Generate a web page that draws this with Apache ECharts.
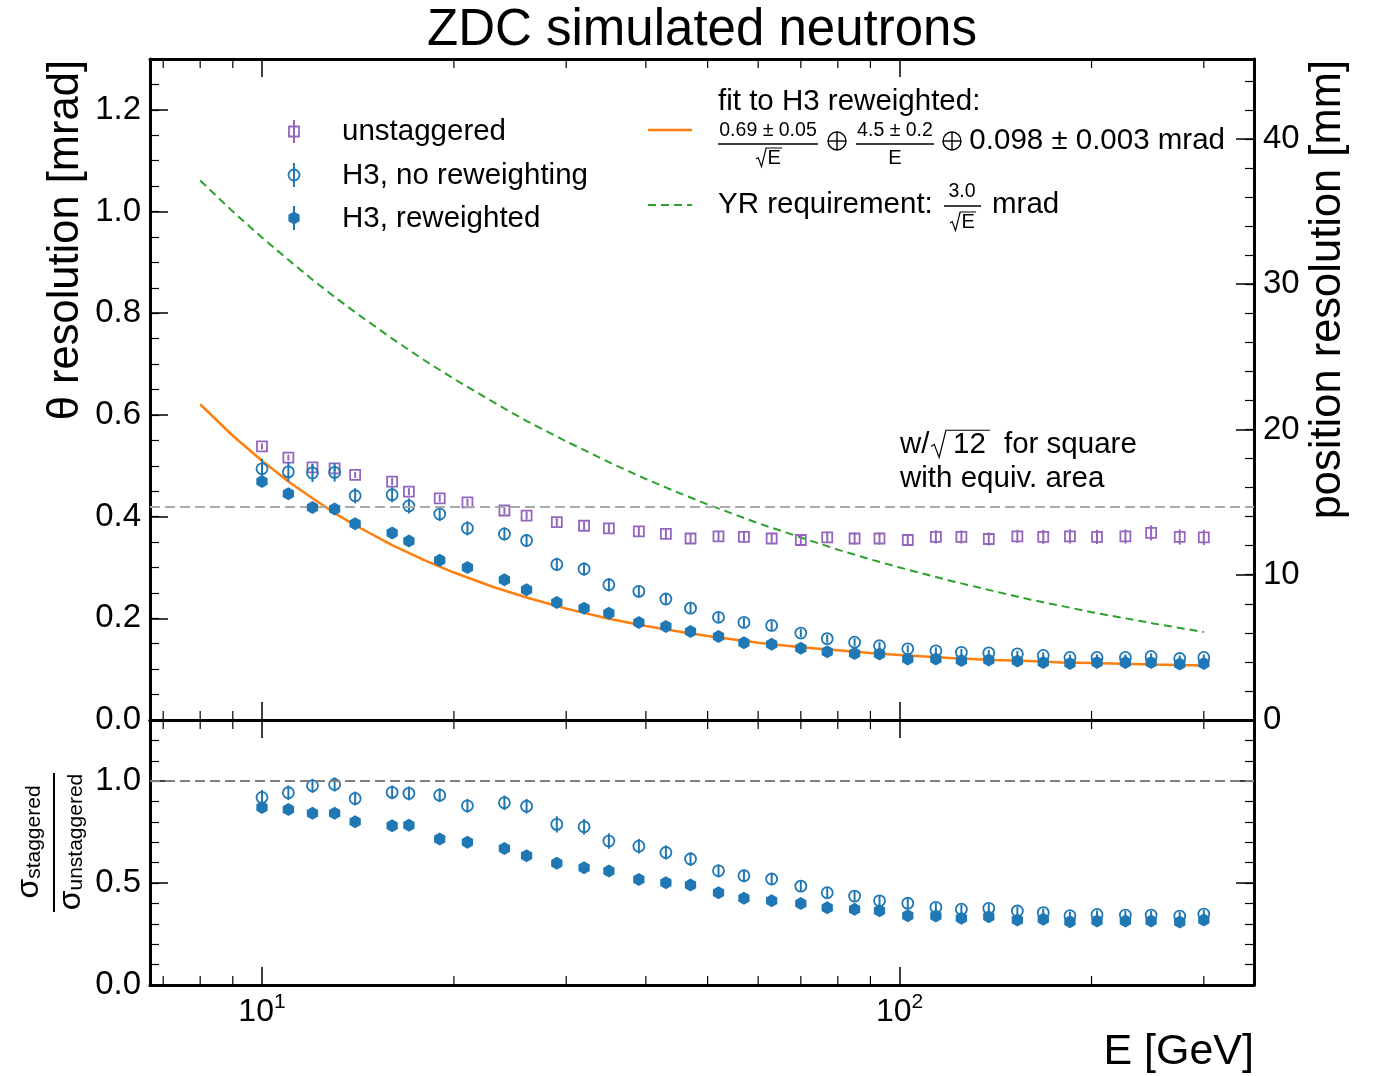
<!DOCTYPE html>
<html>
<head>
<meta charset="utf-8">
<script src="https://cdn.jsdelivr.net/npm/echarts@6/dist/echarts.min.js"></script>
<style>
html,body{margin:0;padding:0;background:#fff;}
#chart{width:1373px;height:1076px;}
</style>
</head>
<body>
<div id="chart"></div>
<script>
// ---------------- data ----------------
const energies = [10,11,12,13,14,16,17,19,21,24,26,29,32,35,39,43,47,52,57,63,70,77,85,93,103,114,125,138,153,168,185,204,226,248,275,300];

const unstaggered    = [0.538,0.516,0.497,0.495,0.482,0.469,0.449,0.436,0.428,0.412,0.402,0.389,0.382,0.377,0.371,0.366,0.357,0.361,0.360,0.357,0.354,0.359,0.357,0.357,0.354,0.360,0.360,0.356,0.361,0.360,0.361,0.360,0.361,0.368,0.360,0.359];
const unstaggeredErr = [0.006,0.006,0.006,0.006,0.006,0.007,0.007,0.007,0.007,0.008,0.008,0.008,0.008,0.009,0.009,0.009,0.010,0.010,0.010,0.011,0.011,0.011,0.012,0.012,0.012,0.013,0.013,0.013,0.013,0.014,0.014,0.014,0.014,0.015,0.015,0.015];

const h3NoRew    = [0.494,0.488,0.486,0.487,0.441,0.443,0.421,0.405,0.377,0.366,0.353,0.306,0.297,0.266,0.253,0.238,0.220,0.202,0.192,0.186,0.171,0.160,0.153,0.146,0.140,0.136,0.133,0.132,0.130,0.127,0.123,0.123,0.123,0.125,0.121,0.123];
const h3NoRewErr = [0.020,0.019,0.018,0.018,0.015,0.015,0.015,0.014,0.014,0.013,0.013,0.013,0.013,0.013,0.012,0.011,0.011,0.010,0.009,0.009,0.008,0.008,0.008,0.007,0.007,0.007,0.007,0.006,0.006,0.006,0.006,0.006,0.006,0.006,0.006,0.006];

const h3Rew    = [0.469,0.445,0.418,0.415,0.386,0.368,0.352,0.314,0.300,0.276,0.256,0.231,0.220,0.210,0.192,0.184,0.174,0.164,0.152,0.149,0.141,0.134,0.131,0.130,0.120,0.120,0.117,0.118,0.116,0.113,0.111,0.113,0.113,0.113,0.110,0.111];
const h3RewErr = [0.010,0.010,0.010,0.010,0.009,0.009,0.009,0.009,0.009,0.008,0.008,0.008,0.008,0.008,0.008,0.008,0.008,0.008,0.008,0.008,0.009,0.009,0.009,0.009,0.010,0.010,0.010,0.010,0.010,0.011,0.011,0.011,0.011,0.011,0.011,0.011];

const ratioNoRew    = [0.920,0.943,0.977,0.984,0.915,0.945,0.940,0.931,0.879,0.894,0.877,0.788,0.776,0.706,0.681,0.650,0.618,0.560,0.536,0.520,0.485,0.453,0.436,0.413,0.401,0.381,0.372,0.376,0.363,0.355,0.340,0.346,0.343,0.343,0.338,0.348];
const ratioNoRewErr = [0.037,0.036,0.035,0.035,0.034,0.034,0.034,0.034,0.034,0.036,0.036,0.040,0.038,0.038,0.036,0.035,0.034,0.032,0.030,0.029,0.027,0.026,0.025,0.024,0.023,0.022,0.022,0.021,0.021,0.020,0.020,0.020,0.020,0.020,0.020,0.020];

const ratioRew    = [0.871,0.861,0.842,0.842,0.801,0.781,0.784,0.716,0.700,0.670,0.634,0.597,0.575,0.559,0.518,0.502,0.490,0.453,0.425,0.413,0.400,0.379,0.371,0.364,0.340,0.338,0.327,0.335,0.319,0.322,0.310,0.314,0.314,0.314,0.309,0.319];
const ratioRewErr = [0.020,0.020,0.020,0.020,0.019,0.019,0.019,0.019,0.019,0.019,0.019,0.019,0.019,0.019,0.019,0.019,0.019,0.020,0.020,0.021,0.021,0.022,0.022,0.023,0.024,0.025,0.025,0.026,0.026,0.027,0.027,0.028,0.028,0.028,0.029,0.029];

// curves (fit to H3 reweighted, YR requirement)
const curveE   = [8,9,10,11,12,13,14,16,18,20,23,26,30,35,40,45,50,60,70,80,90,100,120,140,160,180,200,250,300];
const fitCurve = [0.621,0.559,0.510,0.469,0.436,0.407,0.383,0.344,0.314,0.290,0.262,0.241,0.219,0.199,0.185,0.174,0.165,0.152,0.143,0.137,0.132,0.128,0.122,0.118,0.116,0.113,0.112,0.109,0.107];
const yrCurve  = [1.061,1.000,0.949,0.905,0.866,0.832,0.802,0.750,0.707,0.671,0.626,0.588,0.548,0.507,0.474,0.447,0.424,0.387,0.359,0.335,0.316,0.300,0.274,0.254,0.237,0.224,0.212,0.190,0.173];

const squareLine = 0.417;   // w/sqrt(12) reference [mrad]
const ratioRef   = 1.0;
const minorTicksE = [7,8,9,20,30,40,50,60,70,80,90,200,300];

// axis ranges
const X_MIN = 6.674, X_MAX = 359.6;
const TOP_MAX = 1.3, MM_MAX = 45.5, BOT_MAX = 1.3;

// ---------------- styling ----------------
const FONT = '"Liberation Sans", "DejaVu Sans", Arial, sans-serif';
const C_PURPLE = '#9467bd', C_BLUE = '#1f77b4', C_ORANGE = '#ff7f0e', C_GREEN = '#2ca02c';
const HEX = 'path://M0,-10L8.66,-5L8.66,5L0,10L-8.66,5L-8.66,-5Z';
const HEX_SIZE = [11.3, 13];

function xAx(grid, pos, showLabel) {
  return {
    type: 'log', logBase: 10, gridIndex: grid, position: pos, min: X_MIN, max: X_MAX,
    axisLine: {show: true, onZero: false, lineStyle: {color: '#000', width: 3}},
    axisTick: {show: true, inside: true, length: 18, lineStyle: {color: '#000', width: 1.5}},
    minorTick: {show: false}, splitLine: {show: false}, minorSplitLine: {show: false},
    axisLabel: showLabel ? {
      show: true, margin: 7, showMinLabel: false, showMaxLabel: false,
      formatter: v => '{b|10}{s|' + Math.round(Math.log10(v)) + '}',
      rich: {
        b: {fontSize: 32, fontFamily: FONT, color: '#000', lineHeight: 40},
        s: {fontSize: 21, fontFamily: FONT, color: '#000', lineHeight: 2, verticalAlign: 'top'}
      }
    } : {show: false}
  };
}
function yAx(grid, pos, max, interval, len, label, line) {
  return {
    type: 'value', gridIndex: grid, position: pos, min: 0, max: max, interval: interval,
    axisLine: {show: line, onZero: false, lineStyle: {color: '#000', width: 3}},
    axisTick: {show: true, inside: true, length: len, lineStyle: {color: '#000', width: len > 10 ? 1.5 : 1.2}},
    splitLine: {show: false}, minorTick: {show: false},
    axisLabel: label ? {show: true, margin: 9, showMaxLabel: false, showMinLabel: true, color: '#000', fontSize: 33, fontFamily: FONT, formatter: label} : {show: false}
  };
}

function pts(xs, vals) { return xs.map((e, i) => [e, vals[i]]); }
function errSeries(xi, yi, vals, errs, color, z) {
  return {
    type: 'custom', xAxisIndex: xi, yAxisIndex: yi, z: z, silent: true, clip: false,
    data: energies.map((e, i) => [e, vals[i], errs[i]]),
    renderItem: (params, api) => {
      const x = api.value(0), y = api.value(1), e = api.value(2);
      const a = api.coord([x, y - e]), b = api.coord([x, y + e]);
      return {type: 'line', shape: {x1: a[0], y1: a[1], x2: b[0], y2: b[1]}, style: {stroke: color, lineWidth: 2}};
    }
  };
}
function scat(xi, yi, vals, symbol, size, hollow, color, z) {
  return {
    type: 'scatter', xAxisIndex: xi, yAxisIndex: yi, z: z, silent: true,
    data: pts(energies, vals), symbol: symbol, symbolSize: size,
    itemStyle: hollow ? {color: 'rgba(0,0,0,0)', borderColor: color, borderWidth: 1.8, opacity: 1}
                      : {color: color, borderWidth: 0, opacity: 1},
    emphasis: {disabled: true}
  };
}
function minorTickSeries(xi, yi, yMax) {
  return {
    type: 'custom', xAxisIndex: xi, yAxisIndex: yi, z: 20, silent: true, clip: false,
    data: minorTicksE.map(v => [v, 0]),
    renderItem: (params, api) => {
      const v = api.value(0);
      const b = api.coord([v, 0]), t = api.coord([v, yMax]);
      return {type: 'group', children: [
        {type: 'line', shape: {x1: b[0], y1: b[1], x2: b[0], y2: b[1] - 9}, style: {stroke: '#000', lineWidth: 1.2}},
        {type: 'line', shape: {x1: t[0], y1: t[1], x2: t[0], y2: t[1] + 9}, style: {stroke: '#000', lineWidth: 1.2}}
      ]};
    }
  };
}

// ---------------- graphic helpers (text, legend glyphs) ----------------
function txt(x, y, text, size, align, extra) {
  return Object.assign({type: 'text', x: x, y: y, silent: true,
    style: {text: text, fill: '#000', font: size + 'px ' + FONT, align: align || 'left', verticalAlign: 'middle'}}, extra || {});
}
function seg(x1, y1, x2, y2, color, w, dash) {
  return {type: 'line', silent: true, shape: {x1, y1, x2, y2}, style: {stroke: color, lineWidth: w, lineDash: dash || null}};
}
function radical(xLeft, cy, fs, width) {
  const h = 0.92 * fs, top = cy - 0.5 * fs;
  return {type: 'polyline', silent: true, shape: {points: [
    [xLeft, top + 0.6 * h], [xLeft + 0.12 * h, top + 0.52 * h], [xLeft + 0.3 * h, top + h],
    [xLeft + 0.55 * h, top], [xLeft + 0.55 * h + width, top]]},
    style: {stroke: '#000', lineWidth: 1.2, fill: null}};
}
function oplus(cx, cy, r) {
  return [{type: 'circle', silent: true, shape: {cx, cy, r}, style: {stroke: '#000', lineWidth: 1.4, fill: null}},
          seg(cx - r, cy, cx + r, cy, '#000', 1.4), seg(cx, cy - r, cx, cy + r, '#000', 1.4)];
}

const graphics = [].concat(
  [
    txt(702, 31, 'ZDC simulated neutrons', 51, 'center'),
    txt(66, 60, 'θ resolution [mrad]', 43.5, 'right', {rotation: Math.PI / 2}),
    txt(1328, 60, 'position resolution [mm]', 43.5, 'right', {rotation: Math.PI / 2}),
    txt(1254, 1052, 'E [GeV]', 43, 'right'),
    // ratio label
    {type: 'text', x: 29, y: 842, rotation: Math.PI / 2, silent: true, style: {
      text: '{a|σ}{b|staggered}', align: 'center', verticalAlign: 'middle', fill: '#000',
      rich: {a: {fontSize: 32, fontFamily: FONT, lineHeight: 32}, b: {fontSize: 21, fontFamily: FONT, lineHeight: 20, verticalAlign: 'bottom'}}}},
    seg(54, 773, 54, 912, '#000', 2),
    {type: 'text', x: 71, y: 842, rotation: Math.PI / 2, silent: true, style: {
      text: '{a|σ}{b|unstaggered}', align: 'center', verticalAlign: 'middle', fill: '#000',
      rich: {a: {fontSize: 32, fontFamily: FONT, lineHeight: 32}, b: {fontSize: 21, fontFamily: FONT, lineHeight: 20, verticalAlign: 'bottom'}}}},

    // left legend
    seg(294, 120, 294, 143, C_PURPLE, 2),
    {type: 'rect', silent: true, shape: {x: 289, y: 126.5, width: 10, height: 10}, style: {stroke: C_PURPLE, lineWidth: 1.8, fill: null}},
    txt(342, 132, 'unstaggered', 29.5),
    seg(294, 163, 294, 187, C_BLUE, 2),
    {type: 'circle', silent: true, shape: {cx: 294, cy: 175, r: 5.5}, style: {stroke: C_BLUE, lineWidth: 1.8, fill: null}},
    txt(342, 176, 'H3, no reweighting', 29.5),
    seg(294, 206, 294, 230, C_BLUE, 2),
    {type: 'polygon', silent: true, shape: {points: [[294, 211.5], [299.6, 214.8], [299.6, 221.2], [294, 224.5], [288.4, 221.2], [288.4, 214.8]]}, style: {fill: C_BLUE}},
    txt(342, 219, 'H3, reweighted', 29.5),

    // right legend : fit
    seg(648, 130, 692, 130, C_ORANGE, 2.5),
    txt(718, 102, 'fit to H3 reweighted:', 29.5),
    txt(768, 131, '0.69 ± 0.05', 19.5, 'center'),
    seg(718, 144, 818, 144, '#000', 1.3),
    radical(756, 158, 20, 16),
    txt(767.5, 158, 'E', 20),
    txt(895, 131, '4.5 ± 0.2', 19.5, 'center'),
    seg(856, 144, 934, 144, '#000', 1.3),
    txt(895, 158, 'E', 20, 'center'),
    txt(1225, 141, '0.098 ± 0.003 mrad', 29.5, 'right'),
    // right legend : YR
    seg(648, 205, 692, 205, C_GREEN, 2, [8, 5]),
    txt(718, 205, 'YR requirement:', 29.5),
    txt(962, 192, '3.0', 19.5, 'center'),
    seg(944, 206, 981, 206, '#000', 1.3),
    radical(950, 222, 20, 16),
    txt(961.5, 222, 'E', 20),
    txt(992, 205, 'mrad', 29.5),

    // annotation
    txt(900, 445, 'w/', 29.5),
    radical(931, 445, 29.5, 44),
    txt(953, 445, '12', 29.5),
    txt(1004, 445, 'for square', 29.5),
    txt(900, 479, 'with equiv. area', 29.5)
  ],
  oplus(837, 141, 9),
  oplus(952, 141, 9)
);

// ---------------- chart ----------------
const chart = echarts.init(document.getElementById('chart'), null, {renderer: 'canvas'});
chart.setOption({
  animation: false,
  backgroundColor: '#fff',
  grid: [
    {left: 150, right: 119, top: 59, height: 661, outerBoundsMode: 'none', containLabel: false},
    {left: 150, right: 119, top: 720, height: 265, outerBoundsMode: 'none', containLabel: false}
  ],
  xAxis: [xAx(0, 'bottom', false), xAx(0, 'top', false), xAx(1, 'bottom', true), xAx(1, 'top', false)],
  yAxis: [
    yAx(0, 'left', TOP_MAX, 0.2, 18, v => v.toFixed(1), true),
    yAx(0, 'right', MM_MAX, 10, 18, v => String(Math.round(v)), true),
    yAx(0, 'left', TOP_MAX, 0.05, 9, null, false),
    yAx(0, 'right', MM_MAX, 2, 9, null, false),
    yAx(1, 'left', BOT_MAX, 0.5, 18, v => v.toFixed(1), true),
    yAx(1, 'right', BOT_MAX, 0.5, 18, null, true),
    yAx(1, 'left', BOT_MAX, 0.1, 9, null, false),
    yAx(1, 'right', BOT_MAX, 0.1, 9, null, false)
  ],
  series: [
    {type: 'line', xAxisIndex: 0, yAxisIndex: 0, data: [], silent: true, z: 1,
     markLine: {silent: true, symbol: ['none', 'none'], label: {show: false}, animation: false,
       lineStyle: {color: '#aaaaaa', width: 2, type: [10, 5]}, data: [{yAxis: squareLine}]}},
    {type: 'line', xAxisIndex: 2, yAxisIndex: 4, data: [], silent: true, z: 1,
     markLine: {silent: true, symbol: ['none', 'none'], label: {show: false}, animation: false,
       lineStyle: {color: '#808080', width: 2, type: [10, 5]}, data: [{yAxis: ratioRef}]}},
    {type: 'line', xAxisIndex: 0, yAxisIndex: 0, data: pts(curveE, yrCurve), symbol: 'none', showSymbol: false,
     smooth: false, silent: true, z: 2, lineStyle: {color: C_GREEN, width: 2, type: [8, 5]}},
    {type: 'line', xAxisIndex: 0, yAxisIndex: 0, data: pts(curveE, fitCurve), symbol: 'none', showSymbol: false,
     smooth: false, silent: true, z: 2, lineStyle: {color: C_ORANGE, width: 2.5}},

    errSeries(0, 0, unstaggered, unstaggeredErr, C_PURPLE, 3),
    scat(0, 0, unstaggered, 'rect', 10, true, C_PURPLE, 3),
    errSeries(0, 0, h3NoRew, h3NoRewErr, C_BLUE, 4),
    scat(0, 0, h3NoRew, 'circle', 11, true, C_BLUE, 4),
    errSeries(0, 0, h3Rew, h3RewErr, C_BLUE, 5),
    scat(0, 0, h3Rew, HEX, HEX_SIZE, false, C_BLUE, 5),

    errSeries(2, 4, ratioNoRew, ratioNoRewErr, C_BLUE, 4),
    scat(2, 4, ratioNoRew, 'circle', 11, true, C_BLUE, 4),
    errSeries(2, 4, ratioRew, ratioRewErr, C_BLUE, 5),
    scat(2, 4, ratioRew, HEX, HEX_SIZE, false, C_BLUE, 5),

    minorTickSeries(0, 0, TOP_MAX),
    minorTickSeries(2, 4, BOT_MAX)
  ],
  graphic: graphics
});
</script>
</body>
</html>
